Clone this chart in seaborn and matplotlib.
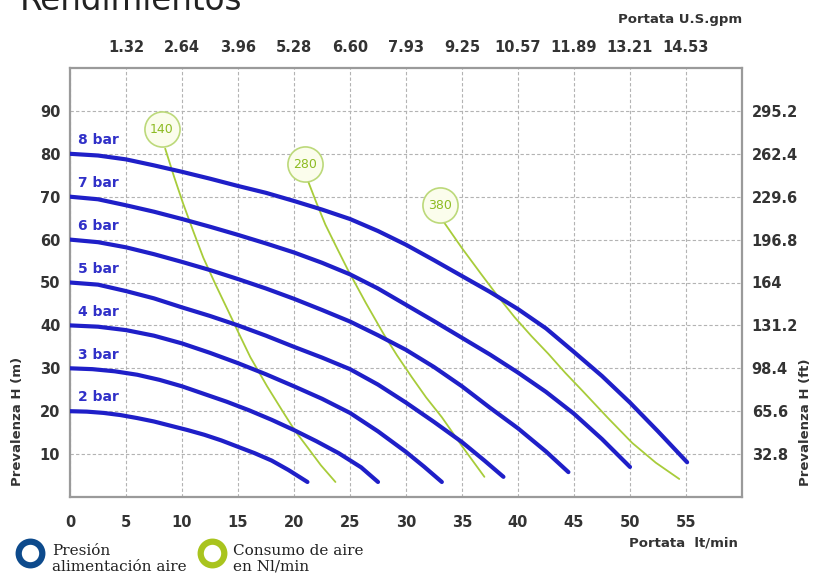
import numpy as np
import pandas as pd
import matplotlib
matplotlib.use("Agg")
import matplotlib.pyplot as plt
import seaborn as sns

# pressure curves (bar) : flow lt/min vs head m
pressures = ["2 bar", "3 bar", "4 bar", "5 bar", "6 bar", "7 bar", "8 bar"]
q_2 = [0, 1.5, 3, 4.5, 6, 7.5, 9, 10.5, 12, 13.5, 15, 16.5, 18, 19.5, 21.2]
h_2 = [20, 19.9, 19.6, 19.1, 18.4, 17.6, 16.6, 15.6, 14.5, 13.2, 11.7, 10.2, 8.5, 6.3, 3.5]
q_3 = [0, 2, 4, 6, 8, 10, 12, 14, 16, 18, 20, 22, 24, 26, 27.5]
h_3 = [30, 29.8, 29.3, 28.5, 27.3, 25.8, 24.0, 22.2, 20.2, 18.0, 15.6, 13.0, 10.2, 6.9, 3.5]
q_4 = [0, 2.5, 5, 7.5, 10, 12.5, 15, 17.5, 20, 22.5, 25, 27.5, 30, 31.6, 33.2]
h_4 = [40, 39.7, 38.9, 37.6, 35.8, 33.6, 31.2, 28.6, 25.8, 22.9, 19.6, 15.3, 10.5, 7.1, 3.5]
q_5 = [0, 2.5, 5, 7.5, 10, 12.5, 15, 17.5, 20, 22.5, 25, 27.5, 30, 32.5, 35, 37, 38.7]
h_5 = [50, 49.5, 48.0, 46.3, 44.2, 42.2, 40.0, 37.6, 35.0, 32.5, 29.8, 26.2, 22.0, 17.5, 12.8, 8.5, 4.7]
q_6 = [0, 2.5, 5, 7.5, 10, 12.5, 15, 17.5, 20, 22.5, 25, 27.5, 30, 32.5, 35, 37.5, 40, 42.5, 44.5]
h_6 = [60, 59.4, 58.2, 56.6, 54.8, 52.9, 50.8, 48.6, 46.2, 43.6, 40.9, 37.7, 34.3, 30.3, 25.8, 20.8, 16.0, 10.6, 5.8]
q_7 = [0, 2.5, 5, 7.5, 10, 12.5, 15, 17.5, 20, 22.5, 25, 27.5, 30, 32.5, 35, 37.5, 40, 42.5, 45, 47.5, 50]
h_7 = [70, 69.4, 68.0, 66.5, 64.8, 63.0, 61.1, 59.1, 57.0, 54.6, 51.9, 48.6, 44.8, 41.0, 37.1, 33.2,
       29.0, 24.5, 19.4, 13.5, 7.0]
q_8 = [0, 2.5, 5, 7.5, 10, 12.5, 15, 17.5, 20, 22.5, 25, 27.5, 30, 32.5, 35, 37.5, 40, 42.5, 45,
       47.5, 50, 52.5, 55.1]
h_8 = [80, 79.6, 78.7, 77.3, 75.8, 74.2, 72.5, 70.9, 69.0, 67.0, 64.8, 62.0, 58.8, 55.2, 51.5, 47.8,
       43.8, 39.3, 33.8, 28.2, 22.0, 15.3, 8.1]

# air consumption lines (Nl/min)
air_labels = ["140", "280", "380"]
q_140 = [8.5, 9.3, 10.1, 11.0, 11.9, 13.0, 14.1, 15.1, 16.1, 17.6, 19.1, 20.1, 21.2, 22.4, 23.7]
h_140 = [81.2, 74.6, 68.4, 62.0, 55.8, 49.5, 43.5, 38.0, 32.6, 25.8, 19.5, 15.4, 11.6, 7.4, 3.5]
q_280 = [21.2, 22.0, 22.8, 23.8, 24.8, 26.4, 28.0, 29.2, 30.5, 31.8, 33.2, 35.1, 37.0]
h_280 = [74.0, 68.6, 63.5, 58.2, 53.0, 45.3, 38.0, 33.0, 28.0, 23.2, 18.6, 11.5, 4.7]
q_380 = [33.4, 35.0, 36.7, 38.2, 39.7, 41.2, 42.7, 44.2, 45.7, 48.0, 50.2, 52.3, 54.4]
h_380 = [64.0, 58.0, 52.0, 46.8, 41.9, 37.5, 33.4, 29.0, 24.9, 18.5, 12.6, 8.0, 4.2]
air_q = [8.2, 21.0, 33.0]
air_h = [85.7, 77.6, 68.0]

# axis ticks
x_ticks = [0, 5, 10, 15, 20, 25, 30, 35, 40, 45, 50, 55]
gpm_ticks = [5, 10, 15, 20, 25, 30, 35, 40, 45, 50, 55]
gpm_labels = ["1.32", "2.64", "3.96", "5.28", "6.60", "7.93", "9.25", "10.57", "11.89", "13.21", "14.53"]
y_ticks = [10, 20, 30, 40, 50, 60, 70, 80, 90]
ft_labels = ["32.8", "65.6", "98.4", "131.2", "164", "196.8", "229.6", "262.4", "295.2"]

curves = [(q_2, h_2), (q_3, h_3), (q_4, h_4), (q_5, h_5), (q_6, h_6), (q_7, h_7), (q_8, h_8)]
rows = []
for name, (qs, hs) in zip(pressures, curves):
    for q, h in zip(qs, hs):
        rows.append({"q": q, "h": h, "curve": name})
df_p = pd.DataFrame(rows)

air_curves = [(q_140, h_140), (q_280, h_280), (q_380, h_380)]
rows = []
for name, (qs, hs) in zip(air_labels, air_curves):
    for q, h in zip(qs, hs):
        rows.append({"q": q, "h": h, "curve": name})
df_a = pd.DataFrame(rows)

sns.set_style("white")
plt.rcParams["font.family"] = ["DejaVu Sans"]

blue = "#1f1fc8"
green = "#a8cc3a"
txt = "#333333"

fig = plt.figure(figsize=(8.14, 5.76), dpi=100)
ax = fig.add_axes([70 / 814, 1 - 497 / 576, 672 / 814, 429 / 576])

sns.lineplot(data=df_a, x="q", y="h", units="curve", estimator=None, sort=False,
             color=green, lw=1.3, ax=ax, zorder=2)
sns.lineplot(data=df_p, x="q", y="h", units="curve", estimator=None, sort=False,
             color=blue, lw=3, ax=ax, zorder=3, solid_capstyle="round", solid_joinstyle="round")

# circles with air consumption
ax.scatter(air_q, air_h, s=640, facecolor="#fbfdec", edgecolor="#bcd97a", lw=1.2, zorder=4)
for lab, q, h in zip(air_labels, air_q, air_h):
    ax.text(q, h, lab, color="#8dbb22", fontsize=9, ha="center", va="center", zorder=5)

# pressure labels
for name, (qs, hs) in zip(pressures, curves):
    ax.text(0.7, hs[0] + 3.2, name, color="#3030c8", fontsize=10, fontweight="bold",
            ha="left", va="center", zorder=5)

ax.set_xlim(0, 60)
ax.set_ylim(0, 100)
ax.set_xticks(x_ticks)
ax.set_yticks(y_ticks)
ax.set_xlabel("")
ax.set_ylabel("")
ax.grid(True, color="#b3b3b3", ls=(0, (3, 2)), lw=0.8)
ax.tick_params(length=0, labelsize=10.5, labelcolor=txt)
ax.tick_params(axis="x", pad=13)
ax.tick_params(axis="y", pad=7)
for lab in ax.get_xticklabels() + ax.get_yticklabels():
    lab.set_fontweight("bold")
for s in ax.spines.values():
    s.set_color("#9a9a9a")
    s.set_linewidth(1.6)

ax_r = ax.twinx()
ax_r.set_ylim(0, 100)
ax_r.set_yticks(y_ticks)
ax_r.set_yticklabels(ft_labels, fontweight="bold")
ax_r.tick_params(length=0, labelsize=10.5, labelcolor=txt, pad=7)

ax_t = ax.twiny()
ax_t.set_xlim(0, 60)
ax_t.set_xticks(gpm_ticks)
ax_t.set_xticklabels(gpm_labels, fontweight="bold")
ax_t.tick_params(length=0, labelsize=10.5, labelcolor=txt, pad=9)
for a in (ax_r, ax_t):
    for s in a.spines.values():
        s.set_visible(False)

# axis titles
fig.text(18 / 814, 1 - 421 / 576, "Prevalenza H (m)", rotation=90, ha="center", va="center",
         fontsize=9.5, fontweight="bold", color=txt)
fig.text(806 / 814, 1 - 422 / 576, "Prevalenza H (ft)", rotation=90, ha="center", va="center",
         fontsize=9.5, fontweight="bold", color=txt)
fig.text(738 / 814, 1 - 543 / 576, "Portata  lt/min", ha="right", va="center",
         fontsize=9.5, fontweight="bold", color=txt)
fig.text(742 / 814, 1 - 20 / 576, "Portata U.S.gpm", ha="right", va="center",
         fontsize=9.5, fontweight="bold", color=txt)

fig.text(20 / 814, 1 - 10 / 576, "Rendimientos", ha="left", va="baseline",
         fontsize=23.5, color="#222222")

# legend
ax.plot([30 / 814], [1 - 553 / 576], marker="o", ms=17, mfc="white", mec="#0d4a8c", mew=4.5,
        transform=fig.transFigure, clip_on=False)
ax.plot([212 / 814], [1 - 553 / 576], marker="o", ms=17, mfc="white", mec="#a9c41e", mew=4.5,
        transform=fig.transFigure, clip_on=False)
fig.text(52 / 814, 1 - 559 / 576, "Presión\nalimentación aire", ha="left", va="center",
         fontsize=11, family="DejaVu Serif", color="#222222", linespacing=1.15)
fig.text(233 / 814, 1 - 559 / 576, "Consumo de aire\nen Nl/min", ha="left", va="center",
         fontsize=11, family="DejaVu Serif", color="#222222", linespacing=1.15)

fig.savefig("out.png", dpi=100)
